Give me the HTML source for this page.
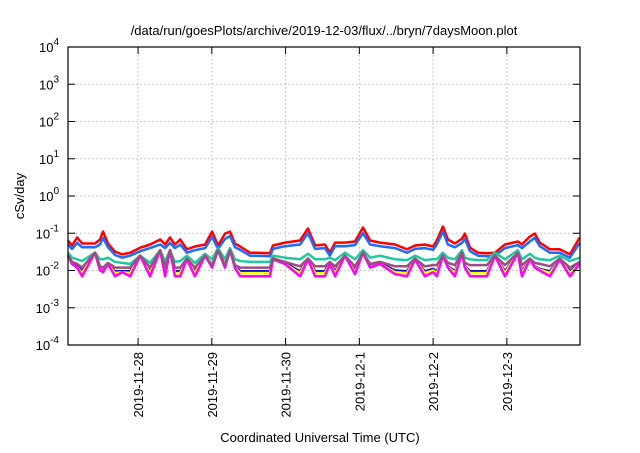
<!DOCTYPE html>
<html><head><meta charset="utf-8"><style>
body{margin:0;background:#fff}
svg text{font-family:"Liberation Sans",sans-serif;fill:#000}
</style></head><body>
<svg id="c" width="640" height="448" xmlns="http://www.w3.org/2000/svg">
<text x="324" y="35" font-size="13" text-anchor="middle">/data/run/goesPlots/archive/2019-12-03/flux/../bryn/7daysMoon.plot</text>
<text x="320" y="442" font-size="13" text-anchor="middle">Coordinated Universal Time (UTC)</text>
<text transform="translate(24,196) rotate(-90)" font-size="13" text-anchor="middle">cSv/day</text>
<g id="grid"></g><g id="series"></g><g id="axes"></g>
</svg>
<script>
const dayLabels=["2019-11-28","2019-11-29","2019-11-30","2019-12-1","2019-12-2","2019-12-3"];
const yExps=[-4,-3,-2,-1,0,1,2,3,4];
// hours since 2019-11-28 00:00 UTC
const hours=[-22.8,-21.5,-19.8,-18.2,-14,-12.4,-11.4,-9.8,-7.5,-5.2,-2.6,0.7,3.9,7.2,8.8,10.4,12,13.7,15.9,18.5,21.8,24.1,26,28.3,29.9,31.5,33.2,36.4,38.7,42.9,43.9,47.8,52.7,55.3,57.6,60.8,62.4,64.1,67.3,70.6,73.2,75.5,78.7,83.6,87.5,90.1,93.3,96,97.2,99.2,100.8,103.1,105.4,106.3,108,110.6,113.5,116.1,119.4,123.6,124.9,127.5,129.1,130.7,134,137.2,140.5,143.7];
const red=[0.064,0.047,0.077,0.053,0.053,0.068,0.111,0.053,0.032,0.027,0.030,0.041,0.050,0.068,0.050,0.077,0.050,0.068,0.037,0.044,0.050,0.111,0.047,0.098,0.111,0.053,0.044,0.030,0.030,0.029,0.047,0.056,0.064,0.134,0.047,0.050,0.030,0.056,0.056,0.060,0.143,0.064,0.056,0.050,0.037,0.047,0.050,0.044,0.064,0.152,0.068,0.053,0.072,0.098,0.041,0.030,0.029,0.030,0.050,0.060,0.050,0.082,0.098,0.056,0.037,0.037,0.027,0.077];
const blue=[0.05,0.038,0.055,0.042,0.042,0.05,0.075,0.042,0.026,0.022,0.025,0.033,0.04,0.05,0.04,0.055,0.04,0.05,0.03,0.035,0.04,0.08,0.038,0.07,0.085,0.042,0.036,0.025,0.025,0.024,0.038,0.045,0.05,0.1,0.038,0.04,0.025,0.045,0.045,0.048,0.1,0.05,0.045,0.04,0.03,0.038,0.04,0.036,0.05,0.11,0.05,0.042,0.055,0.07,0.033,0.025,0.024,0.025,0.04,0.048,0.04,0.06,0.075,0.045,0.03,0.03,0.022,0.055];
const teal=[0.03,0.022,0.02,0.018,0.03,0.02,0.02,0.022,0.017,0.016,0.015,0.025,0.016,0.035,0.017,0.035,0.017,0.018,0.025,0.016,0.028,0.02,0.04,0.02,0.04,0.02,0.018,0.017,0.017,0.017,0.025,0.022,0.02,0.028,0.02,0.02,0.022,0.019,0.03,0.02,0.035,0.022,0.025,0.02,0.019,0.025,0.019,0.02,0.02,0.03,0.022,0.02,0.035,0.022,0.02,0.019,0.019,0.03,0.02,0.035,0.02,0.028,0.022,0.02,0.019,0.025,0.018,0.022];
const purple=[0.026,0.017,0.015,0.012,0.03,0.013,0.012,0.016,0.012,0.012,0.012,0.025,0.012,0.035,0.012,0.035,0.012,0.012,0.021,0.012,0.025,0.014,0.035,0.014,0.035,0.014,0.012,0.012,0.012,0.012,0.021,0.017,0.013,0.021,0.013,0.013,0.017,0.013,0.025,0.013,0.03,0.015,0.017,0.013,0.013,0.021,0.013,0.014,0.014,0.025,0.016,0.014,0.03,0.016,0.014,0.014,0.014,0.025,0.014,0.03,0.014,0.021,0.016,0.015,0.013,0.021,0.012,0.017];
const navy=[0.025,0.016,0.013,0.0095,0.03,0.011,0.0095,0.015,0.0095,0.0095,0.0095,0.025,0.0095,0.035,0.0095,0.035,0.0095,0.0095,0.02,0.0095,0.025,0.013,0.035,0.013,0.035,0.013,0.0095,0.0095,0.0095,0.0095,0.02,0.016,0.0095,0.02,0.0095,0.0095,0.016,0.0095,0.025,0.01,0.03,0.013,0.016,0.01,0.0095,0.02,0.0095,0.011,0.0095,0.025,0.013,0.0095,0.03,0.013,0.0095,0.0095,0.0095,0.025,0.0095,0.03,0.0095,0.02,0.013,0.011,0.0095,0.02,0.0095,0.015];
const yellow=[0.025,0.015,0.012,0.0085,0.03,0.0105,0.009,0.015,0.0085,0.009,0.0085,0.025,0.0085,0.035,0.0085,0.035,0.0085,0.0085,0.02,0.0085,0.025,0.0125,0.035,0.0125,0.035,0.0125,0.0085,0.0085,0.0085,0.0085,0.02,0.015,0.0085,0.02,0.0085,0.0085,0.015,0.0085,0.025,0.009,0.03,0.0125,0.015,0.009,0.0085,0.02,0.0085,0.01,0.0085,0.025,0.0125,0.0085,0.03,0.0125,0.0085,0.0085,0.0085,0.025,0.0085,0.03,0.0085,0.02,0.0125,0.0105,0.0085,0.02,0.0085,0.015];
const magenta=[0.025,0.015,0.012,0.007,0.03,0.01,0.009,0.015,0.007,0.009,0.007,0.025,0.007,0.035,0.007,0.035,0.007,0.007,0.02,0.007,0.025,0.012,0.035,0.012,0.035,0.012,0.007,0.007,0.007,0.007,0.02,0.015,0.007,0.02,0.007,0.007,0.015,0.007,0.025,0.008,0.03,0.012,0.015,0.008,0.007,0.02,0.007,0.009,0.007,0.025,0.012,0.007,0.03,0.012,0.007,0.007,0.007,0.025,0.007,0.03,0.007,0.02,0.012,0.01,0.007,0.02,0.007,0.015];
const seriesList=[[red,"#ff0000","series-red"],[blue,"#1e6cff","series-blue"],[teal,"#20c8a0","series-teal"],[navy,"#1010c8","series-navy"],[yellow,"#ffff00","series-yellow"],[magenta,"#ff00ff","series-magenta"],[purple,"#9a4f80","series-purple"]];
const L=68,R=580,T=47,B=345,NS="http://www.w3.org/2000/svg";
const hMin=-22.8,hMax=143.8;
const xH=h=>L+(h-hMin)/(hMax-hMin)*(R-L);
const yLog=v=>B-(Math.log10(v)+4)/8*(B-T);
function mk(t,a,p){const e=document.createElementNS(NS,t);for(const k in a)e.setAttribute(k,a[k]);p.appendChild(e);return e;}
const G=document.getElementById('grid'),S=document.getElementById('series'),A=document.getElementById('axes');
yExps.forEach(ex=>{const y=B-(ex+4)/8*(B-T);
 if(ex>-4&&ex<4){const g=mk('line',{x1:L,x2:R,y1:y,y2:y,stroke:'#bbb','stroke-dasharray':'1.5,2.5'},G);
 }
 const t=mk('line',{x1:L,x2:L+7,y1:y,y2:y,stroke:'#000'},A);
 const t2=mk('line',{x1:R-7,x2:R,y1:y,y2:y,stroke:'#000'},A);
 const tx=mk('text',{x:59,y:y+5,'font-size':13,'text-anchor':'end'},A);
 
 tx.textContent='10';const s=mk('tspan',{dy:-7,'font-size':10},tx);s.textContent=String(ex);
});
dayLabels.forEach((lab,i)=>{const x=xH(i*24);
 const g=mk('line',{x1:x,x2:x,y1:T,y2:B,stroke:'#bbb','stroke-dasharray':'1.5,2.5'},G);
 
 const t=mk('line',{x1:x,x2:x,y1:B-7,y2:B,stroke:'#000'},A);
 const t2=mk('line',{x1:x,x2:x,y1:T,y2:T+7,stroke:'#000'},A);
 const tx=mk('text',{transform:`translate(${x+5},352) rotate(-90)`,'font-size':13,'text-anchor':'end'},A);
 tx.textContent=lab;
});
seriesList.forEach(([arr,col,name])=>{
 const pts=arr.map((v,i)=>xH(hours[i]).toFixed(1)+','+yLog(v).toFixed(1)).join(' ');
 const p=mk('polyline',{points:pts,fill:'none',stroke:col,'stroke-width':2.5,'stroke-linejoin':'round'},S);
 
});
const f=mk('rect',{x:L,y:T,width:R-L,height:B-T,fill:'none',stroke:'#000','stroke-width':1.2},A);

</script>
</body></html>
